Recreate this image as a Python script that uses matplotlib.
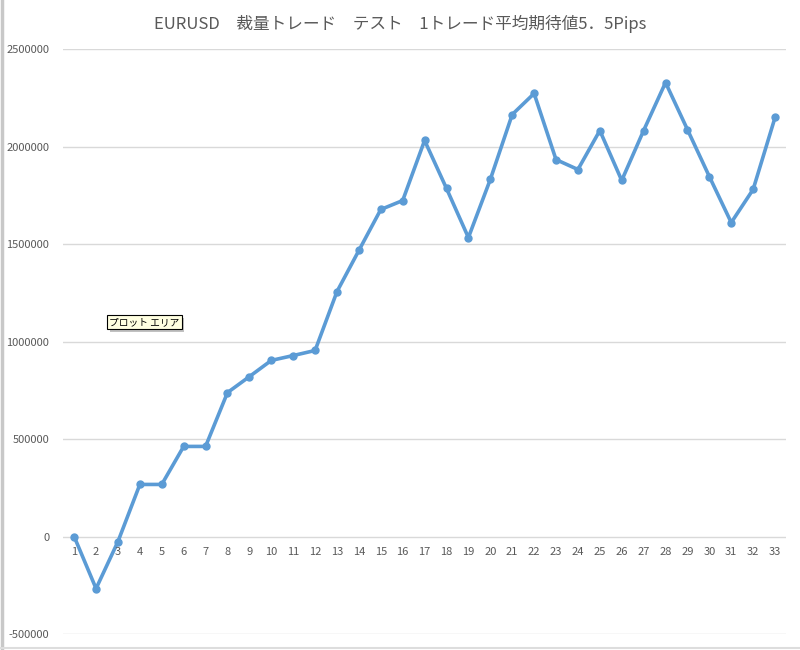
import matplotlib
matplotlib.use("Agg")
import matplotlib.pyplot as plt
import matplotlib.patheffects as pe
import numpy as np

plt.rcParams['font.family'] = ['Noto Sans CJK JP', 'DejaVu Sans']

title = "EURUSD　裁量トレード　テスト　1トレード平均期待値5．5Pips"
trades = list(range(1, 34))
balance = [0, -267000, -26000, 267000, 267000, 462000, 462000, 738000,
           820000, 903000, 928000, 954000, 1256000, 1467000, 1677000,
           1723000, 2031000, 1785000, 1533000, 1831000, 2164000, 2272000,
           1933000, 1882000, 2082000, 1826000, 2082000, 2328000, 2087000,
           1846000, 1610000, 1780000, 2149000]
yticks = [-500000, 0, 500000, 1000000, 1500000, 2000000, 2500000]

line_color = "#5B9BD5"
grid_color = "#D9D9D9"
text_color = "#595959"

fig = plt.figure(figsize=(8, 6.5), dpi=100)
ax = fig.add_axes([0.079, 0.0246, 0.9035, 0.9])

x = np.arange(len(trades))
ax.plot(x, balance, color=line_color, linewidth=2.6, marker='o',
        markersize=5, solid_joinstyle='round', zorder=3)

ax.set_xlim(-0.5, len(trades) - 0.5)
ax.set_ylim(yticks[0], yticks[-1])
ax.set_yticks(yticks)
ax.set_yticklabels([str(v) for v in yticks])
ax.set_xticks([])
for sp in ax.spines.values():
    sp.set_visible(False)
ax.grid(axis='y', color=grid_color, linewidth=1)
ax.set_axisbelow(True)
ax.tick_params(axis='y', length=0, pad=10, labelsize=8, labelcolor=text_color)

# category labels sit just under the zero line
for xi, t in zip(x, trades):
    ax.text(xi, -80000, str(t), ha='center', va='center', fontsize=8,
            color=text_color)

fig.text(0.5, 0.963, title, ha='center', va='center', fontsize=12,
         color=text_color)

# excel tooltip with a soft shadow
tip = ax.text(1.6, 1100000, "プロット エリア", fontsize=7, color='black',
              ha='left', va='center',
              bbox=dict(boxstyle='square,pad=0.2', facecolor='#FFFFE1',
                        edgecolor='black', linewidth=0.8))
tip.get_bbox_patch().set_path_effects(
    [pe.SimplePatchShadow(offset=(2, -2), shadow_rgbFace='#999999', alpha=0.6),
     pe.Normal()])

# frame edges of the screenshot
fig.add_artist(plt.Line2D([0.002, 0.002], [0, 1], color='#C8C8C8',
                          linewidth=2.5, transform=fig.transFigure))
fig.add_artist(plt.Line2D([0, 1], [0.003, 0.003], color='#DDDDDD',
                          linewidth=1.5, transform=fig.transFigure))

fig.savefig("out.png", dpi=100)
